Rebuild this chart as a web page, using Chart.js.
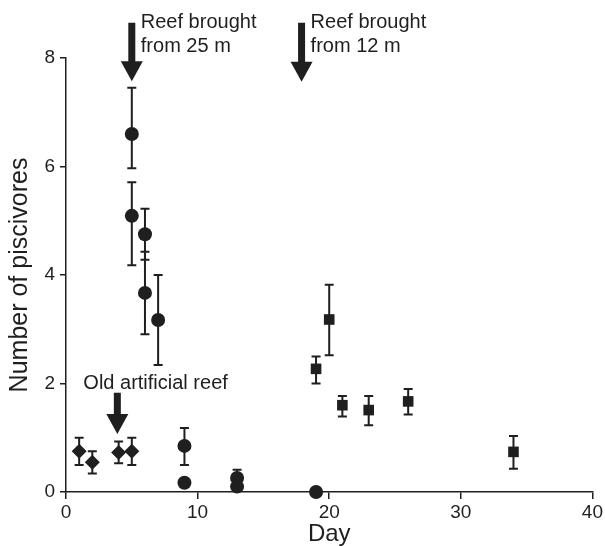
<!DOCTYPE html>
<html>
<head>
<meta charset="utf-8">
<script src="https://cdn.jsdelivr.net/npm/chart.js@4"></script>
<style>
  html, body { margin: 0; padding: 0; background: #fff; }
  #wrap { width: 605px; height: 546px; }
</style>
</head>
<body>
<div id="wrap"><canvas id="chart" width="605" height="546"></canvas></div>
<script>
// Old artificial reef (diamonds)
const oldDays = [1, 2, 4, 5];
const oldMean = [0.75, 0.55, 0.73, 0.75];
const oldLow  = [0.50, 0.34, 0.53, 0.50];
const oldHigh = [1.00, 0.75, 0.93, 1.00];

// Reef brought from 25 m (circles)
const deepDays = [5, 5, 6, 6, 7, 9, 9, 13, 13, 19];
const deepMean = [6.60, 5.09, 4.75, 3.67, 3.17, 0.85, 0.17, 0.26, 0.10, 0];
const deepLow  = [5.97, 4.18, 4.28, 2.91, 2.34, 0.50, 0.10, 0.11, 0.05, 0];
const deepHigh = [7.45, 5.71, 5.22, 4.43, 4.00, 1.18, 0.24, 0.41, 0.15, 0];

// Reef brought from 12 m (squares)
const shallowDays = [19, 20, 21, 23, 26, 34];
const shallowMean = [2.27, 3.18, 1.60, 1.51, 1.67, 0.74];
const shallowLow  = [2.00, 2.52, 1.39, 1.23, 1.43, 0.43];
const shallowHigh = [2.50, 3.82, 1.77, 1.77, 1.90, 1.03];

const xTicks = [0, 10, 20, 30, 40];
const yTicks = [0, 2, 4, 6, 8];

// arrows: day, top and tip of arrow (in y units)
const arrowDays = [5, 17.9, 3.9];
const arrowTop  = [8.65, 8.65, 1.83];
const arrowTip  = [7.57, 7.56, 1.07];
const arrowText = [['Reef brought', 'from 25 m'], ['Reef brought', 'from 12 m'], ['Old artificial reef']];

const ink = '#1f1f1f';
const FONT = '"Liberation Sans", Arial, Helvetica, sans-serif';

function toPoints(days, mean, low, high) {
  return days.map((d, i) => ({x: d, y: mean[i], lo: low[i], hi: high[i]}));
}

// error bars under the markers
const errorBars = {
  id: 'errorBars',
  beforeDatasetsDraw(chart) {
    const ctx = chart.ctx;
    const xs = chart.scales.x, ys = chart.scales.y;
    ctx.save();
    ctx.strokeStyle = ink;
    ctx.lineWidth = 2;
    chart.data.datasets.forEach(ds => {
      ds.data.forEach(p => {
        if (p.hi === p.lo) return;
        const px = xs.getPixelForValue(p.x);
        const top = ys.getPixelForValue(p.hi);
        const bot = ys.getPixelForValue(p.lo);
        ctx.beginPath();
        ctx.moveTo(px, top); ctx.lineTo(px, bot);
        ctx.moveTo(px - 4.5, top); ctx.lineTo(px + 4.5, top);
        ctx.moveTo(px - 4.5, bot); ctx.lineTo(px + 4.5, bot);
        ctx.stroke();
      });
    });
    ctx.restore();
  }
};

// the event arrows with their notes
const arrows = {
  id: 'arrows',
  afterDraw(chart) {
    const ctx = chart.ctx;
    const xs = chart.scales.x, ys = chart.scales.y;
    ctx.save();
    ctx.fillStyle = ink;
    arrowDays.forEach((d, i) => {
      const cx = xs.getPixelForValue(d);
      const t = ys.getPixelForValue(arrowTop[i]);
      const tip = ys.getPixelForValue(arrowTip[i]);
      const headStart = tip - 20;
      ctx.fillRect(cx - 3.5, t, 7, headStart - t + 1);
      ctx.beginPath();
      ctx.moveTo(cx - 11, headStart);
      ctx.lineTo(cx + 11, headStart);
      ctx.lineTo(cx, tip);
      ctx.closePath();
      ctx.fill();

      ctx.font = '20px ' + FONT;
      ctx.textAlign = 'left';
      ctx.textBaseline = 'alphabetic';
      const lines = arrowText[i];
      if (lines.length > 1) {
        lines.forEach((s, k) => ctx.fillText(s, cx + 9, t + 5 + k * 24));
      } else {
        ctx.fillText(lines[0], cx - 34, t - 4);
      }
    });
    ctx.restore();
  }
};

const marker = {borderColor: ink, backgroundColor: ink, borderWidth: 0, clip: false, showLine: false};

new Chart(document.getElementById('chart'), {
  type: 'scatter',
  data: {
    datasets: [
      Object.assign({label: 'Old artificial reef', data: toPoints(oldDays, oldMean, oldLow, oldHigh),
        pointStyle: 'rectRot', pointRadius: 7.5}, marker),
      Object.assign({label: 'Reef brought from 25 m', data: toPoints(deepDays, deepMean, deepLow, deepHigh),
        pointStyle: 'circle', pointRadius: 7}, marker),
      Object.assign({label: 'Reef brought from 12 m', data: toPoints(shallowDays, shallowMean, shallowLow, shallowHigh),
        pointStyle: 'rect', pointRadius: 7.5}, marker)
    ]
  },
  options: {
    responsive: false,
    animation: false,
    layout: {padding: {top: 58, right: 10, left: 0, bottom: 0}},
    plugins: {legend: {display: false}, tooltip: {enabled: false}},
    scales: {
      x: {
        type: 'linear',
        min: 0, max: 40,
        afterFit(scale) { scale.height = 54; },
        afterBuildTicks(scale) { scale.ticks = xTicks.map(v => ({value: v})); },
        grid: {drawOnChartArea: false, drawTicks: true, tickLength: 7, color: ink, lineWidth: 1.5},
        border: {display: true, color: ink, width: 1.5},
        ticks: {color: ink, padding: 2, font: {family: FONT, size: 19}},
        title: {display: true, text: 'Day', color: ink, padding: {top: 0, bottom: 0},
          font: {family: FONT, size: 24, lineHeight: 1.0}}
      },
      y: {
        type: 'linear',
        min: 0, max: 8,
        afterFit(scale) { scale.width = 66; },
        afterBuildTicks(scale) { scale.ticks = yTicks.map(v => ({value: v})); },
        grid: {drawOnChartArea: false, drawTicks: true, tickLength: 6, color: ink, lineWidth: 1.5},
        border: {display: true, color: ink, width: 1.5},
        ticks: {color: ink, padding: 5, font: {family: FONT, size: 19}},
        title: {display: true, text: 'Number of piscivores', color: ink, padding: {top: 8, bottom: 0},
          font: {family: FONT, size: 25, lineHeight: 1.0}}
      }
    }
  },
  plugins: [errorBars, arrows]
});
</script>
</body>
</html>
